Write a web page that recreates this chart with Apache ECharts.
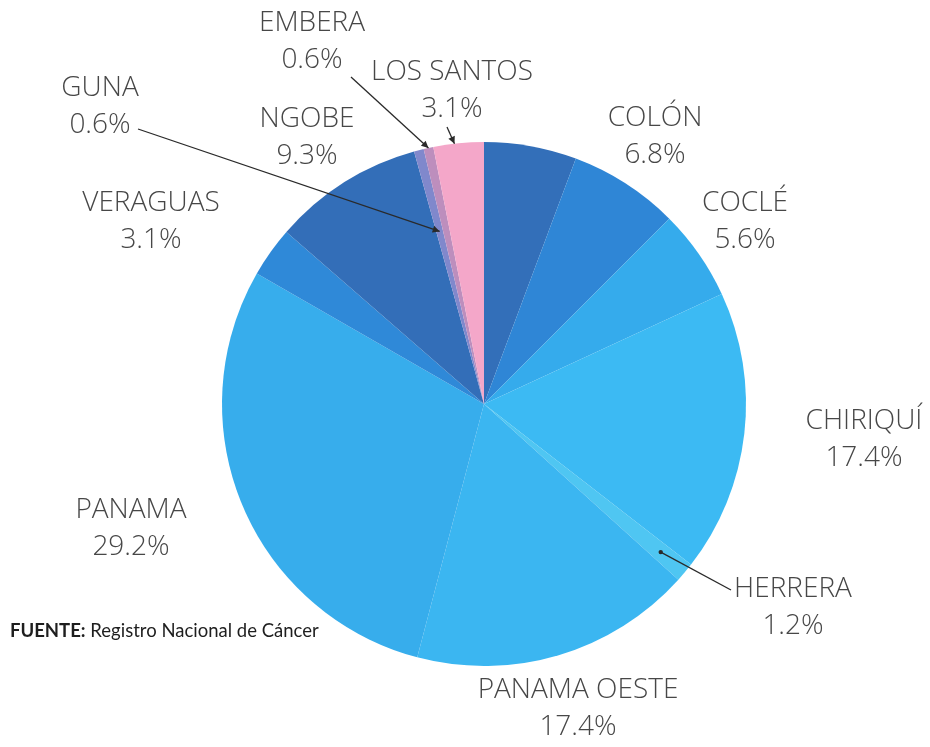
<!DOCTYPE html>
<html>
<head>
<meta charset="utf-8">
<script src="https://cdn.jsdelivr.net/npm/echarts@6/dist/echarts.min.js"></script>
<style>
html,body{margin:0;padding:0;background:#fff;}
#main{width:930px;height:747px;}
</style>
</head>
<body>
<div id="main"></div>
<script>
// ---- data ----
var categories = ['', 'COLÓN', 'COCLÉ', 'CHIRIQUÍ', 'HERRERA', 'PANAMA OESTE', 'PANAMA', 'VERAGUAS', 'NGOBE', 'GUNA', 'EMBERA', 'LOS SANTOS'];
var values = [5.7, 6.8, 5.6, 17.4, 1.2, 17.4, 29.2, 3.1, 9.3, 0.6, 0.6, 3.1];
var valueLabels = ['', '6.8%', '5.6%', '17.4%', '1.2%', '17.4%', '29.2%', '3.1%', '9.3%', '0.6%', '0.6%', '3.1%'];
var sourceLabel = 'FUENTE:';
var sourceText = 'Registro Nacional de Cáncer';

// ---- styles / layout ----
var colors = ['#336fb9', '#2f86d6', '#35abec', '#3cbaf3', '#4fc6f2', '#3bb6f1', '#37adec', '#2f89d8', '#336eb8', '#8088cc', '#bd8ebd', '#f4a7c9'];
var labelPos = [null, [655,137], [745,222], [864,440], [793,608], [578,709], [131,529], [151,222], [307,138], [100,107], [312,42], [452,91]];
var FONT = 'Open Sans';
// arrow tails and tip radius fraction for annotated slices
var arrows = [
  {i: 9, tail: [138,129], frac: 0.68, head: 'arrow'},
  {i: 10, tail: [351,77], frac: 1.0, head: 'arrow'},
  {i: 11, tail: [447,127], frac: 1.0, head: 'arrow', angleOverride: 0.42},
  {i: 4, tail: [731,590], frac: 0.88, head: 'dot'}
];

var chart = echarts.init(document.getElementById('main'));
var pieData = categories.map(function (c, i) {
  return {name: c, value: values[i], itemStyle: {color: colors[i]}, label: {show: c !== ''}};
});

chart.setOption({
  animation: false,
  backgroundColor: '#ffffff',
  series: [{
    type: 'pie',
    center: [484, 404],
    radius: [0, 262],
    startAngle: 90,
    clockwise: true,
    avoidLabelOverlap: false,
    itemStyle: {borderWidth: 0},
    labelLine: {show: false},
    label: {
      show: true,
      position: 'outside',
      fontFamily: FONT,
      fontWeight: 300,
      fontSize: 28,
      color: '#474747',
      lineHeight: 37,
      formatter: function (p) { return p.name + '\n' + valueLabels[p.dataIndex]; }
    },
    labelLayout: function (params) {
      var p = labelPos[params.dataIndex];
      if (!p) return {};
      return {x: p[0], y: p[1], align: 'center', verticalAlign: 'middle'};
    },
    data: pieData
  }]
});

// arrows from labels to slices, anchored on the library's own slice layout
var g = [{
  type: 'text',
  left: 10,
  top: 622,
  style: {
    text: '{b|' + sourceLabel + '} ' + sourceText,
    rich: {b: {fontFamily: 'Lato', fontWeight: 'bold', fontSize: 18.5, fill: '#1e1e1e'}},
    fontFamily: 'Lato', fontSize: 18.5, fill: '#1e1e1e'
  }
}];
try {
  var data = chart.getModel().getSeriesByIndex(0).getData();
  arrows.forEach(function (a) {
    var L = data.getItemLayout(a.i);
    var f = a.angleOverride != null ? a.angleOverride : 0.5;
    var ang = L.startAngle + (L.endAngle - L.startAngle) * f;
    var tip = [L.cx + L.r * a.frac * Math.cos(ang), L.cy + L.r * a.frac * Math.sin(ang)];
    var t = a.tail;
    g.push({type: 'line', shape: {x1: t[0], y1: t[1], x2: tip[0], y2: tip[1]}, style: {stroke: '#2a2a2a', lineWidth: 1.3}, z: 10});
    if (a.head === 'dot') {
      g.push({type: 'circle', shape: {cx: tip[0], cy: tip[1], r: 2.2}, style: {fill: '#2a2a2a'}, z: 10});
    } else {
      var dx = tip[0] - t[0], dy = tip[1] - t[1], len = Math.sqrt(dx*dx + dy*dy);
      var ux = dx/len, uy = dy/len, s = 7, w = 3.5;
      g.push({type: 'polygon', shape: {points: [
        [tip[0], tip[1]],
        [tip[0] - ux*s - uy*w, tip[1] - uy*s + ux*w],
        [tip[0] - ux*s + uy*w, tip[1] - uy*s - ux*w]
      ]}, style: {fill: '#2a2a2a'}, z: 10});
    }
  });
} catch (e) { console.error(e); }
chart.setOption({graphic: {elements: g}});
</script>
</body>
</html>
